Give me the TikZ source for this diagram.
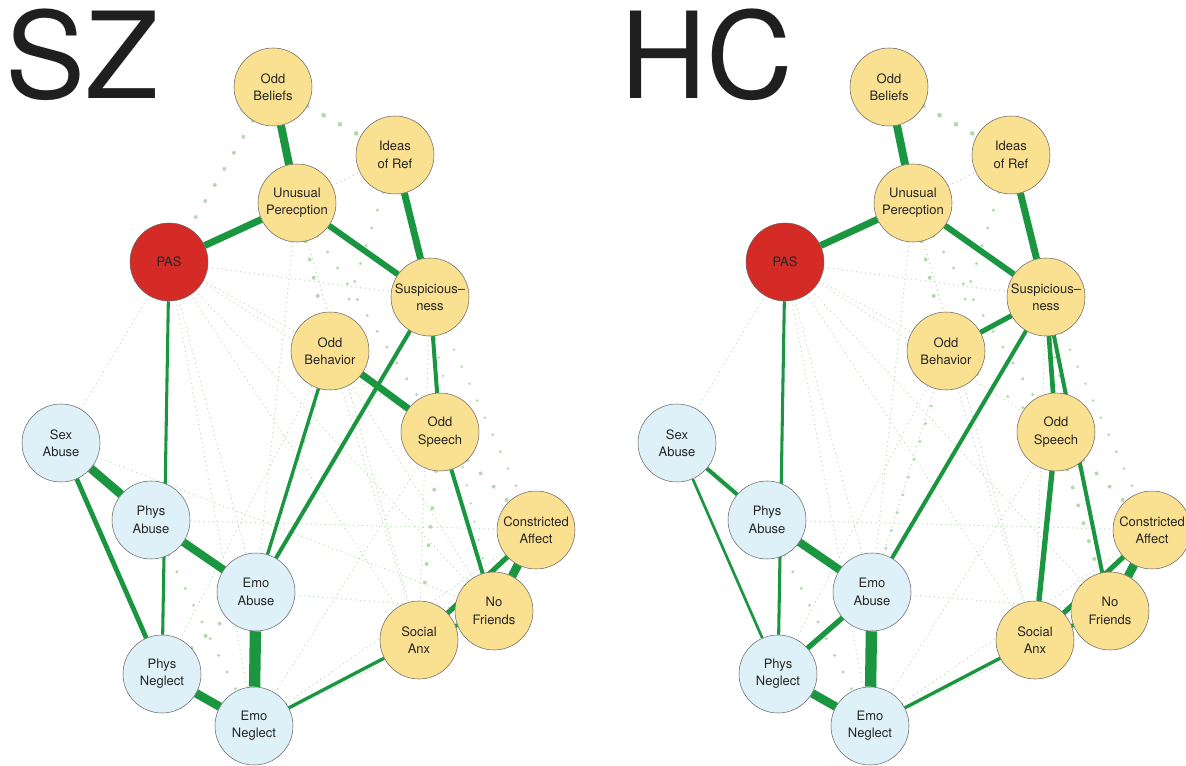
\documentclass[tikz,border=0pt]{standalone}
\usepackage{fontspec}
\setmainfont{TeX Gyre Heros}
\usetikzlibrary{backgrounds}
\definecolor{symptom}{RGB}{250,224,145}
\definecolor{trauma}{RGB}{222,241,248}
\definecolor{pasred}{RGB}{213,43,38}
\definecolor{linkgreen}{RGB}{26,150,65}
\definecolor{dotgreen}{RGB}{178,219,172}
\tikzset{
  var/.style={circle,draw=black!60,line width=0.4pt,minimum size=58.5pt,
    inner sep=0pt,align=center,text=black!85,font=\fontsize{9.75}{13}\selectfont},
  sym/.style={var,fill=symptom},
  trm/.style={var,fill=trauma},
  total/.style={var,fill=pasred},
  link/.style={draw=linkgreen,line width=#1},
  faint/.style={draw=dotgreen,line width=1pt,line cap=round,dash pattern=on 0pt off 3.5pt},
  blob/.style={draw=dotgreen,line width=#1,line cap=round,dash pattern=on 0pt off 14pt},
  panel/.style={font=\fontsize{90}{90}\selectfont,text=black!88,inner sep=0pt,anchor=base west}
}
\begin{document}
\begin{tikzpicture}[x=0.75pt,y=-0.75pt]
    \useasboundingbox (0,0) rectangle (1186,766);

    % SZ
    \node[panel] (szT) at (5,99) {SZ};
    \begin{scope}
        \node[sym] (sz-ob) at (273,87) {Odd\\Beliefs};
        \node[sym] (sz-ir) at (395,155) {Ideas\\of Ref};
        \node[sym] (sz-up) at (297,203) {Unusual\\Perecption};
        \node[total] (sz-pas) at (169,262) {PAS};
        \node[sym] (sz-sus) at (430,297) {Suspicious–\\ness};
        \node[sym] (sz-obh) at (330,351) {Odd\\Behavior};
        \node[sym] (sz-osp) at (440,432) {Odd\\Speech};
        \node[trm] (sz-sex) at (61,443) {Sex\\Abuse};
        \node[trm] (sz-pab) at (151,520) {Phys\\Abuse};
        \node[sym] (sz-ca) at (536,530) {Constricted\\Affect};
        \node[trm] (sz-eab) at (256,592) {Emo\\Abuse};
        \node[sym] (sz-nf) at (494,611) {No\\Friends};
        \node[sym] (sz-sa) at (419,640) {Social\\Anx};
        \node[trm] (sz-pne) at (162,674) {Phys\\Neglect};
        \node[trm] (sz-ene) at (254,726) {Emo\\Neglect};
    \end{scope}

    % HC
    \node[panel] (hcT) at (620,99) {HC};
    \begin{scope}[shift={(616,0)}]
        \node[sym] (hc-ob) at (273,87) {Odd\\Beliefs};
        \node[sym] (hc-ir) at (395,155) {Ideas\\of Ref};
        \node[sym] (hc-up) at (297,203) {Unusual\\Perecption};
        \node[total] (hc-pas) at (169,262) {PAS};
        \node[sym] (hc-sus) at (430,297) {Suspicious–\\ness};
        \node[sym] (hc-obh) at (330,351) {Odd\\Behavior};
        \node[sym] (hc-osp) at (440,432) {Odd\\Speech};
        \node[trm] (hc-sex) at (61,443) {Sex\\Abuse};
        \node[trm] (hc-pab) at (151,520) {Phys\\Abuse};
        \node[sym] (hc-ca) at (536,530) {Constricted\\Affect};
        \node[trm] (hc-eab) at (256,592) {Emo\\Abuse};
        \node[sym] (hc-nf) at (494,611) {No\\Friends};
        \node[sym] (hc-sa) at (419,640) {Social\\Anx};
        \node[trm] (hc-pne) at (162,674) {Phys\\Neglect};
        \node[trm] (hc-ene) at (254,726) {Emo\\Neglect};
    \end{scope}

    \begin{pgfonlayer}{background}
        % SZ weak edges
        \draw[blob=3pt] (sz-ob) -- (sz-pas);
        \draw[blob=3.5pt] (sz-ob) -- (sz-ir);
        \draw[blob=2.5pt] (sz-ir) -- (sz-eab);
        \draw[blob=3pt] (sz-up) -- (sz-obh);
        \draw[blob=2.5pt] (sz-up) -- (sz-osp);
        \draw[blob=3pt] (sz-pne) -- (sz-eab);
        \draw[blob=2.5pt] (sz-pab) -- (sz-ene);
        \draw[blob=3pt] (sz-osp) -- (sz-ca);
        \draw[blob=2.2pt] (sz-sus) -- (sz-ca);
        \draw[blob=2pt] (sz-ir) -- (sz-nf);
        \draw[blob=3pt] (sz-osp) -- (sz-sa);
        \draw[faint] (sz-pas) -- (sz-sex);
        \draw[faint] (sz-pas) -- (sz-sus);
        \draw[faint] (sz-pas) -- (sz-obh);
        \draw[faint] (sz-pas) -- (sz-osp);
        \draw[faint] (sz-pas) -- (sz-eab);
        \draw[faint] (sz-pas) -- (sz-ene);
        \draw[faint] (sz-pas) -- (sz-sa);
        \draw[faint] (sz-pas) -- (sz-nf);
        \draw[faint] (sz-sex) -- (sz-nf);
        \draw[faint] (sz-sex) -- (sz-eab);
        \draw[faint] (sz-up) -- (sz-ir);
        \draw[faint] (sz-up) -- (sz-eab);
        \draw[faint] (sz-up) -- (sz-sa);
        \draw[faint] (sz-ene) -- (sz-osp);
        \draw[faint] (sz-ene) -- (sz-ca);
        \draw[faint] (sz-ene) -- (sz-nf);
        \draw[faint] (sz-pab) -- (sz-ca);
        \draw[faint] (sz-eab) -- (sz-nf);
        \draw[faint] (sz-obh) -- (sz-sa);
        \draw[faint] (sz-obh) -- (sz-nf);
        \draw[faint] (sz-sus) -- (sz-sa);
        \draw[faint] (sz-pne) -- (sz-obh);

        % SZ strong edges
        \draw[link=6pt] (sz-ob) -- (sz-up);
        \draw[link=5.2pt] (sz-up) -- (sz-pas);
        \draw[link=4.5pt] (sz-up) -- (sz-sus);
        \draw[link=5.2pt] (sz-ir) -- (sz-sus);
        \draw[link=2.3pt] (sz-pas) -- (sz-pne);
        \draw[link=3pt] (sz-sus) -- (sz-eab);
        \draw[link=3pt] (sz-sus) -- (sz-osp);
        \draw[link=5.2pt] (sz-obh) -- (sz-osp);
        \draw[link=2.5pt] (sz-obh) -- (sz-eab);
        \draw[link=3pt] (sz-osp) -- (sz-nf);
        \draw[link=3.8pt] (sz-ca) -- (sz-sa);
        \draw[link=6.5pt] (sz-ca) -- (sz-nf);
        \draw[link=3pt] (sz-sa) -- (sz-nf);
        \draw[link=6.5pt] (sz-sex) -- (sz-pab);
        \draw[link=3.6pt] (sz-sex) -- (sz-pne);
        \draw[link=6pt] (sz-pab) -- (sz-eab);
        \draw[link=8.5pt] (sz-eab) -- (sz-ene);
        \draw[link=6.5pt] (sz-pne) -- (sz-ene);
        \draw[link=2.5pt] (sz-ene) -- (sz-sa);

        % HC weak edges
        \draw[blob=3.5pt] (hc-ob) -- (hc-ir);
        \draw[blob=2.5pt] (hc-ir) -- (hc-eab);
        \draw[blob=3pt] (hc-up) -- (hc-obh);
        \draw[blob=2.5pt] (hc-up) -- (hc-osp);
        \draw[blob=2.5pt] (hc-pab) -- (hc-ene);
        \draw[blob=3pt] (hc-osp) -- (hc-ca);
        \draw[blob=2.2pt] (hc-sus) -- (hc-ca);
        \draw[blob=2pt] (hc-ir) -- (hc-nf);
        \draw[blob=3pt] (hc-osp) -- (hc-nf);
        \draw[blob=2.5pt] (hc-obh) -- (hc-osp);
        \draw[faint] (hc-pas) -- (hc-sex);
        \draw[faint] (hc-pas) -- (hc-sus);
        \draw[faint] (hc-pas) -- (hc-obh);
        \draw[faint] (hc-pas) -- (hc-osp);
        \draw[faint] (hc-pas) -- (hc-eab);
        \draw[faint] (hc-pas) -- (hc-ene);
        \draw[faint] (hc-pas) -- (hc-sa);
        \draw[faint] (hc-pas) -- (hc-nf);
        \draw[faint] (hc-sex) -- (hc-eab);
        \draw[faint] (hc-up) -- (hc-ir);
        \draw[faint] (hc-up) -- (hc-eab);
        \draw[faint] (hc-up) -- (hc-sa);
        \draw[faint] (hc-ene) -- (hc-osp);
        \draw[faint] (hc-ene) -- (hc-ca);
        \draw[faint] (hc-ene) -- (hc-nf);
        \draw[faint] (hc-pab) -- (hc-ca);
        \draw[faint] (hc-eab) -- (hc-nf);
        \draw[faint] (hc-obh) -- (hc-eab);
        \draw[faint] (hc-obh) -- (hc-sa);
        \draw[faint] (hc-sus) -- (hc-sa);
        \draw[faint] (hc-pne) -- (hc-obh);

        % HC strong edges
        \draw[link=6pt] (hc-ob) -- (hc-up);
        \draw[link=5.2pt] (hc-up) -- (hc-pas);
        \draw[link=4.5pt] (hc-up) -- (hc-sus);
        \draw[link=5.2pt] (hc-ir) -- (hc-sus);
        \draw[link=2.3pt] (hc-pas) -- (hc-pne);
        \draw[link=3.8pt] (hc-sus) -- (hc-obh);
        \draw[link=3pt] (hc-sus) -- (hc-eab);
        \draw[link=3.5pt] (hc-sus) -- (hc-osp);
        \draw[link=3pt] (hc-sus) -- (hc-nf);
        \draw[link=4pt] (hc-osp) -- (hc-sa);
        \draw[link=3.8pt] (hc-ca) -- (hc-sa);
        \draw[link=6.5pt] (hc-ca) -- (hc-nf);
        \draw[link=3pt] (hc-sa) -- (hc-nf);
        \draw[link=3pt] (hc-sex) -- (hc-pab);
        \draw[link=2pt] (hc-sex) -- (hc-pne);
        \draw[link=6pt] (hc-pab) -- (hc-eab);
        \draw[link=4pt] (hc-eab) -- (hc-pne);
        \draw[link=8.5pt] (hc-eab) -- (hc-ene);
        \draw[link=6.5pt] (hc-pne) -- (hc-ene);
        \draw[link=2.5pt] (hc-ene) -- (hc-sa);
    \end{pgfonlayer}
\end{tikzpicture}
\end{document}
